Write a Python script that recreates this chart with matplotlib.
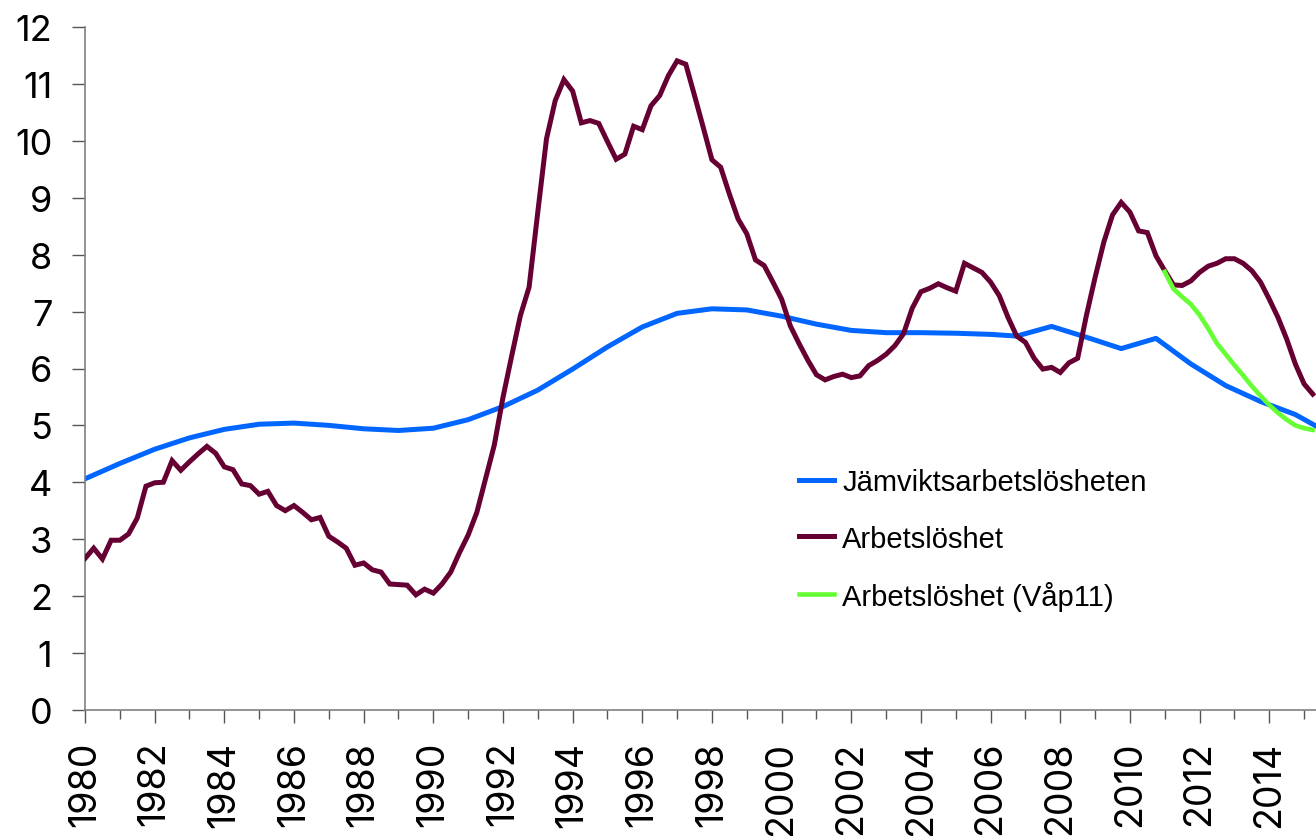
import numpy as np
import matplotlib.pyplot as plt
from matplotlib.ticker import MultipleLocator

# Quarterly unemployment (Arbetslöshet), 1980Q1 onwards
ARBETSLOSHET = [
    2.66, 2.84, 2.65, 2.98,   # 1980
    2.98, 3.09, 3.37, 3.93,   # 1981
    3.99, 4.00, 4.38, 4.21,   # 1982
    4.36, 4.50, 4.63, 4.51,   # 1983
    4.27, 4.22, 3.97, 3.94,   # 1984
    3.79, 3.84, 3.59, 3.50,   # 1985
    3.59, 3.47, 3.34, 3.38,   # 1986
    3.05, 2.95, 2.84, 2.54,   # 1987
    2.58, 2.46, 2.42, 2.21,   # 1988
    2.20, 2.19, 2.02, 2.12,   # 1989
    2.05, 2.21, 2.42, 2.76,   # 1990
    3.07, 3.47, 4.06, 4.65,   # 1991
    5.49, 6.22, 6.93, 7.43,   # 1992
    8.75, 10.04, 10.71, 11.08,  # 1993
    10.88, 10.32, 10.36, 10.31,  # 1994
    9.99, 9.68, 9.77, 10.26,  # 1995
    10.20, 10.62, 10.80, 11.15,  # 1996
    11.41, 11.35, 10.80, 10.24,  # 1997
    9.67, 9.54, 9.07, 8.63,   # 1998
    8.37, 7.91, 7.81, 7.52,   # 1999
    7.22, 6.75, 6.44, 6.15,   # 2000
    5.89, 5.80, 5.86, 5.90,   # 2001
    5.84, 5.87, 6.05, 6.14,   # 2002
    6.25, 6.40, 6.61, 7.06,   # 2003
    7.35, 7.41, 7.49, 7.42,   # 2004
    7.36, 7.85, 7.77, 7.69,   # 2005
    7.52, 7.28, 6.90, 6.57,   # 2006
    6.46, 6.18, 5.99, 6.02,   # 2007
    5.93, 6.10, 6.18, 6.93,   # 2008
    7.60, 8.22, 8.70, 8.92,   # 2009
    8.75, 8.42, 8.39, 7.98,   # 2010
    7.72, 7.47, 7.46, 7.54,   # 2011
    7.69, 7.80, 7.85, 7.93,   # 2012
    7.93, 7.85, 7.72, 7.52,   # 2013
    7.22, 6.90, 6.52, 6.08,   # 2014
    5.73, 5.55,               # 2015
]
ARBETSLOSHET_START = 1980.0

# Forecast from Vårpropositionen 2011, quarterly from 2011Q1
VAP11 = [
    7.70, 7.40, 7.26, 7.13,   # 2011
    6.94, 6.70, 6.44, 6.25,   # 2012
    6.06, 5.88, 5.69, 5.52,   # 2013
    5.36, 5.22, 5.10, 5.00,   # 2014
    4.95, 4.92,               # 2015
]
VAP11_START = 2011.0

# Equilibrium unemployment (Jämviktsarbetslösheten)
JAMVIKT_YEARS = [
    1980.0, 1981.0, 1982.0, 1983.0, 1984.0, 1985.0, 1986.0, 1987.0, 1988.0,
    1989.0, 1990.0, 1991.0, 1992.0, 1993.0, 1994.0, 1995.0, 1996.0, 1997.0,
    1998.0, 1999.0, 2000.0, 2001.0, 2002.0, 2003.0, 2004.0, 2005.0, 2006.0,
    2006.75, 2007.75, 2008.75, 2009.75, 2010.75, 2011.75, 2012.75, 2013.75,
    2014.75, 2015.75,
]
JAMVIKT = [
    4.06, 4.33, 4.58, 4.78, 4.93, 5.02, 5.04, 5.00, 4.94,
    4.91, 4.95, 5.10, 5.33, 5.62, 5.99, 6.38, 6.73, 6.97,
    7.05, 7.03, 6.92, 6.78, 6.67, 6.63, 6.63, 6.62, 6.60,
    6.57, 6.74, 6.55, 6.35, 6.53, 6.08, 5.70, 5.42,
    5.19, 4.85,
]

YEAR_TICKS = list(range(1980, 2015, 2))

COLORS = {
    "jamvikt": "#0066ff",
    "arbetsloshet": "#660033",
    "vap11": "#66ff33",
}

W_PX, H_PX, DPI = 1316, 837, 100
FONT = "Liberation Sans"
TICK_FONT = "Inter"


def quarter_axis(start, n):
    return start + 0.25 * np.arange(n)


def main():
    plt.rcParams["font.family"] = [FONT, "DejaVu Sans"]
    fig = plt.figure(figsize=(W_PX / DPI, H_PX / DPI), dpi=DPI)

    # Plot area in pixels of the reference: left 85, top 28, bottom 711, runs off the right edge
    left, right = 85 / W_PX, 1.0
    bottom, top = 1 - 710.7 / H_PX, 1 - 28.3 / H_PX
    ax = fig.add_axes([left, bottom, right - left, top - bottom])

    ax.plot(JAMVIKT_YEARS, JAMVIKT, color=COLORS["jamvikt"], lw=3.6,
            solid_joinstyle="round", label="Jämviktsarbetslösheten", zorder=2)
    ax.plot(quarter_axis(ARBETSLOSHET_START, len(ARBETSLOSHET)), ARBETSLOSHET,
            color=COLORS["arbetsloshet"], lw=3.6, solid_joinstyle="miter",
            label="Arbetslöshet", zorder=3)
    ax.plot(quarter_axis(VAP11_START, len(VAP11)), VAP11,
            color=COLORS["vap11"], lw=3.3, label="Arbetslöshet (Våp11)", zorder=4)

    ax.set_xlim(1980, 1980 + (W_PX - 85) / 34.83)
    ax.set_ylim(0, 12)

    ax.set_yticks(range(0, 13))
    ax.set_xticks(YEAR_TICKS)
    ax.xaxis.set_minor_locator(MultipleLocator(1))
    ax.set_xticklabels([str(y) for y in YEAR_TICKS], rotation=90)
    ax.tick_params(axis="y", length=9.5, width=1.0, pad=14, color="#555555")
    ax.tick_params(axis="x", which="major", length=9.2, width=1.0, pad=13,
                   color="#555555")
    ax.tick_params(axis="x", which="minor", length=6.5, width=1.0,
                   color="#555555")
    for lab in ax.get_yticklabels():
        lab.set_family([TICK_FONT, FONT])
        lab.set_fontsize(26)
    for lab in ax.get_xticklabels():
        lab.set_family([TICK_FONT, FONT])
        lab.set_fontsize(27)

    for side in ("top", "right"):
        ax.spines[side].set_visible(False)
    for side in ("left", "bottom"):
        ax.spines[side].set_color("#808080")
        ax.spines[side].set_linewidth(1.2)

    ax.legend(
        loc="center left",
        bbox_to_anchor=(799 / W_PX, 1 - 540.5 / H_PX),
        bbox_transform=fig.transFigure,
        frameon=False,
        fontsize=21,
        handlelength=1.2,
        handletextpad=0.28,
        labelspacing=0.96,
        borderpad=0.0,
        borderaxespad=0.0,
    )

    fig.savefig("out.png", dpi=DPI)
    plt.close(fig)


if __name__ == "__main__":
    main()
